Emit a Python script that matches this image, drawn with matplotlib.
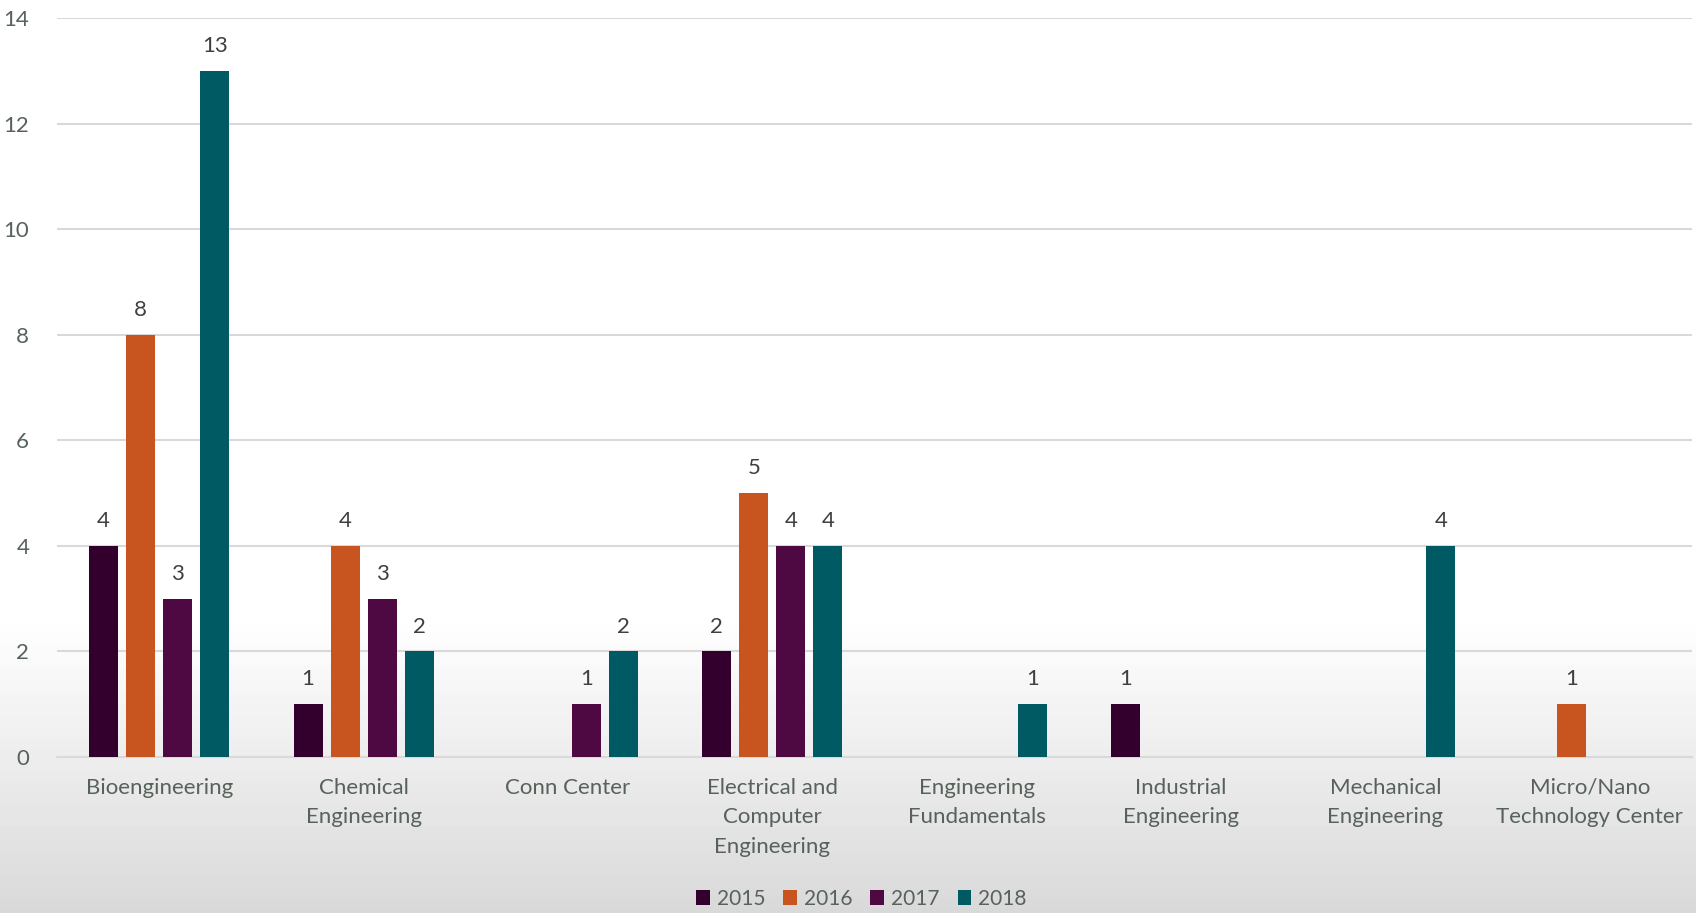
import matplotlib.pyplot as plt
import numpy as np

categories = ['Bioengineering', 'Chemical\nEngineering', 'Conn Center',
              'Electrical and\nComputer\nEngineering', 'Engineering\nFundamentals',
              'Industrial\nEngineering', 'Mechanical\nEngineering',
              'Micro/Nano\nTechnology Center']
years = ['2015', '2016', '2017', '2018']
v2015 = [4, 1, 0, 2, 0, 1, 0, 0]
v2016 = [8, 4, 0, 5, 0, 0, 0, 1]
v2017 = [3, 3, 1, 4, 0, 0, 0, 0]
v2018 = [13, 2, 2, 4, 1, 0, 4, 0]
colors = ['#33002e', '#c8541f', '#4e0942', '#005a64']

txt = '#57625b'
plt.rcParams['font.family'] = ['Lato', 'DejaVu Sans']

fig = plt.figure(figsize=(16.96, 9.13), dpi=100)

# background gradient: white on top fading to light grey at the bottom
bg = fig.add_axes([0, 0, 1, 1], zorder=-10)
n = 200
grad = np.ones((n, 1))
for i in range(n):
    f = i / (n - 1)  # 0 at top
    t = max(0.0, (f - 0.68) / 0.32)
    grad[i, 0] = 1.0 - 0.15 * t
bg.imshow(grad, aspect='auto', cmap='gray', vmin=0, vmax=1, extent=[0, 1, 0, 1])
bg.axis('off')

ax = fig.add_axes([57 / 1696, 1 - 757 / 913, (1692 - 57) / 1696, (757 - 18) / 913])
ax.set_facecolor('none')

x = np.arange(len(categories))
pitch = 0.181
width = 0.142
series = [v2015, v2016, v2017, v2018]
for k, (vals, c, yr) in enumerate(zip(series, colors, years)):
    pos = x + (k - 1.5) * pitch
    ax.bar(pos, vals, width, color=c, label=yr, zorder=3)
    for p, v in zip(pos, vals):
        if v > 0:
            ax.text(p, v + 0.28, str(v), ha='center', va='bottom', fontsize=16, color='#404040')

ax.set_xlim(-0.5, len(categories) - 0.5)
ax.set_ylim(0, 14)
ax.set_yticks(range(0, 15, 2))
ax.yaxis.grid(True, color='#d9d9d9', linewidth=1.5, zorder=0)
ax.set_axisbelow(True)
for s in ['top', 'right', 'left']:
    ax.spines[s].set_visible(False)
ax.spines['bottom'].set_color('#d9d9d9')
ax.spines['bottom'].set_linewidth(1.5)
ax.tick_params(axis='both', length=0, labelsize=16, colors=txt)
ax.tick_params(axis='y', pad=20)
ax.tick_params(axis='x', pad=15)
ax.set_xticks(x)
ax.set_xticklabels(categories, linespacing=1.6)

leg = fig.legend(loc='center', bbox_to_anchor=(0.508, 1 - 899 / 913), ncol=4,
                 frameon=False, fontsize=15, handlelength=0.65, handleheight=0.7,
                 handletextpad=0.35, columnspacing=0.85)
for t in leg.get_texts():
    t.set_color(txt)

plt.savefig('out.png', dpi=100)
plt.close()
